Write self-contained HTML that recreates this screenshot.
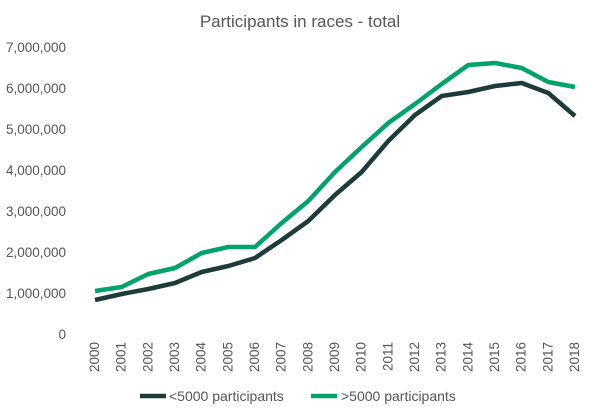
<!DOCTYPE html>
<html><head><meta charset="utf-8"><style>
html,body{margin:0;padding:0;background:#fff;width:600px;height:414px;overflow:hidden}
text{font-family:"Liberation Sans",sans-serif;fill:#555}
</style></head><body>
<svg width="600" height="414" xmlns="http://www.w3.org/2000/svg">
<text x="300" y="27" text-anchor="middle" font-size="17" style="fill:#555">Participants in races - total</text>
<g font-size="13.5" text-anchor="end">
<text x="66" y="339">0</text>
<text x="66" y="298">1,000,000</text>
<text x="66" y="257">2,000,000</text>
<text x="66" y="216">3,000,000</text>
<text x="66" y="175">4,000,000</text>
<text x="66" y="134">5,000,000</text>
<text x="66" y="93">6,000,000</text>
<text x="66" y="52">7,000,000</text>
</g>
<g font-size="13.5" text-anchor="end">
<text transform="translate(99,342) rotate(-90)">2000</text>
<text transform="translate(125.7,342) rotate(-90)">2001</text>
<text transform="translate(152.3,342) rotate(-90)">2002</text>
<text transform="translate(179,342) rotate(-90)">2003</text>
<text transform="translate(205.7,342) rotate(-90)">2004</text>
<text transform="translate(232.3,342) rotate(-90)">2005</text>
<text transform="translate(259,342) rotate(-90)">2006</text>
<text transform="translate(285.7,342) rotate(-90)">2007</text>
<text transform="translate(312.3,342) rotate(-90)">2008</text>
<text transform="translate(339,342) rotate(-90)">2009</text>
<text transform="translate(365.7,342) rotate(-90)">2010</text>
<text transform="translate(392.3,342) rotate(-90)">2011</text>
<text transform="translate(419,342) rotate(-90)">2012</text>
<text transform="translate(445.7,342) rotate(-90)">2013</text>
<text transform="translate(472.3,342) rotate(-90)">2014</text>
<text transform="translate(499,342) rotate(-90)">2015</text>
<text transform="translate(525.7,342) rotate(-90)">2016</text>
<text transform="translate(552.3,342) rotate(-90)">2017</text>
<text transform="translate(579,342) rotate(-90)">2018</text>
</g>
<polyline fill="none" stroke="#1e3a3a" stroke-width="4.5" stroke-linejoin="round" points="95,300 121.7,294 148.3,289 175,283 201.7,272 228.3,266 255,258 281.7,240 308.3,221 335,195 361.7,172 388.3,141 415,115 441.7,96 468.3,92 495,86 521.7,83 548.3,93 575,116"/>
<polyline fill="none" stroke="#00a36a" stroke-width="4.5" stroke-linejoin="round" points="95,291 121.7,287 148.3,274 175,268 201.7,253 228.3,247 255,247 281.7,223 308.3,201 335,172 361.7,147 388.3,123 415,104 441.7,84 468.3,65 495,63 521.7,68 548.3,82 575,87"/>
<line x1="140" y1="396" x2="166" y2="396" stroke="#1e3a3a" stroke-width="4.5"/>
<text x="169" y="401" font-size="14">&lt;5000 participants</text>
<line x1="311" y1="396" x2="337" y2="396" stroke="#00a36a" stroke-width="4.5"/>
<text x="341" y="401" font-size="14">&gt;5000 participants</text>
</svg>
</body></html>
